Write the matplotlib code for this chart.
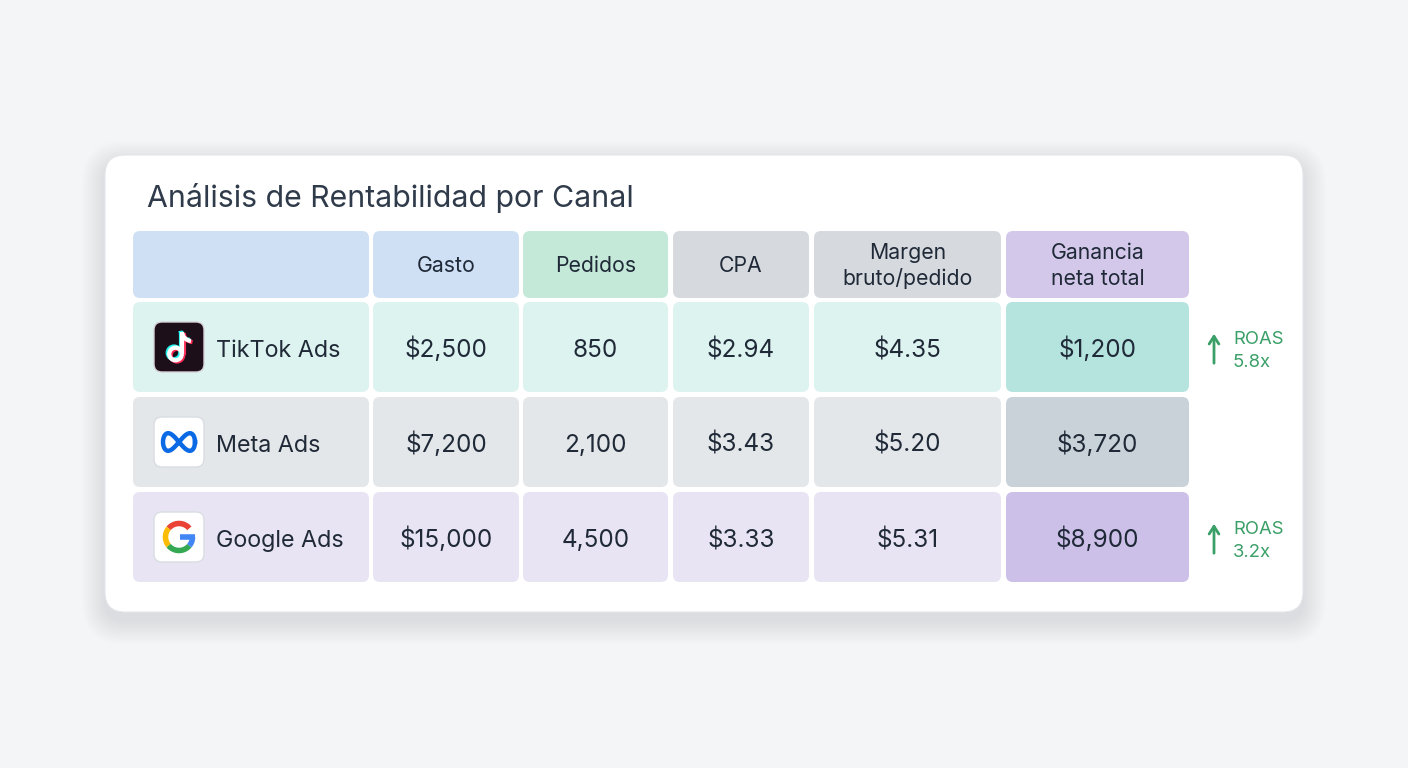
import numpy as np
import matplotlib.pyplot as plt
from matplotlib.patches import FancyBboxPatch, Circle
from matplotlib.path import Path
from matplotlib.patches import PathPatch

plt.rcParams['font.family'] = ['Inter', 'DejaVu Sans']

# ---- data ----
title = "Análisis de Rentabilidad por Canal"
headers = ["", "Gasto", "Pedidos", "CPA", "Margen\nbruto/pedido", "Ganancia\nneta total"]
channels = ["TikTok Ads", "Meta Ads", "Google Ads"]
gasto = [2500, 7200, 15000]
pedidos = [850, 2100, 4500]
cpa = [2.94, 3.43, 3.33]
margen = [4.35, 5.20, 5.31]
ganancia = [1200, 3720, 8900]
roas = [5.8, None, 3.2]

# ---- layout (pixels) ----
W, H = 1408, 768
col_x = [133, 373, 523, 673, 814, 1006]
col_w = [236, 146, 145, 136, 187, 183]
head_y, head_h = 231, 67
row_y = [302, 397, 492]
row_h = 90

text_col = '#1f2937'
green = '#3b9f68'

header_colors = ['#cfe0f5', '#cfe0f5', '#c4e9d8', '#d6dadf', '#d6dadf', '#d3c8ea']
row_colors = ['#ddf3ef', '#e3e7e9', '#e8e4f4']
last_colors = ['#b5e4df', '#c9d2d8', '#ccc0e8']

fig = plt.figure(figsize=(W / 100, H / 100), dpi=100)
fig.patch.set_facecolor('#f3f5f6')
ax = fig.add_axes([0, 0, 1, 1])
ax.set_xlim(0, W)
ax.set_ylim(H, 0)
ax.axis('off')


def box(x, y, w, h, fc, r=6, ec='none', lw=0, z=2, alpha=1):
    p = FancyBboxPatch((x, y), w, h, boxstyle=f"round,pad=0,rounding_size={r}",
                       fc=fc, ec=ec, lw=lw, zorder=z, alpha=alpha)
    ax.add_patch(p)
    return p


# card shadow + card
for i in range(12):
    g = 1 + i * 2.0
    box(105 - g, 155 - g + 9, 1198 + 2 * g, 457 + 2 * g, '#7d8690', r=20 + g,
        z=0, alpha=0.010)
box(105, 155, 1198, 457, 'white', r=20, ec='#e3e6ea', lw=0.8, z=1)

ax.text(147, 207, title, fontsize=21.8, color='#2f3b4a', va='baseline', ha='left', zorder=3)

# header
for j, hd in enumerate(headers):
    box(col_x[j], head_y, col_w[j], head_h, header_colors[j], r=7)
    lines = hd.split('\n') if hd else []
    base = [272] if len(lines) == 1 else [259, 285]
    for ln, b in zip(lines, base):
        ax.text(col_x[j] + col_w[j] / 2, b, ln, fontsize=15.3,
                color=text_col, ha='center', va='baseline', zorder=3)

# body
for i, ch in enumerate(channels):
    vals = [f"${gasto[i]:,}", f"{pedidos[i]:,}", f"${cpa[i]:.2f}",
            f"${margen[i]:.2f}", f"${ganancia[i]:,}"]
    cy = row_y[i] + row_h / 2
    for j in range(6):
        fc = last_colors[i] if j == 5 else row_colors[i]
        box(col_x[j], row_y[i], col_w[j], row_h, fc, r=7)
        if j > 0:
            ax.text(col_x[j] + col_w[j] / 2, cy + 10, vals[j - 1], fontsize=17.5,
                    color=text_col, ha='center', va='baseline', zorder=3)
    ax.text(216, cy + 10, ch, fontsize=16.8, color=text_col, ha='left', va='baseline', zorder=3)

    # icon
    ix, iy = 179, cy
    if i == 0:
        box(ix - 25, iy - 25, 50, 50, '#1c0f1a', r=8, ec='#d8d0d6', lw=1, z=3)

        def note(dx, dy, c):
            ax.plot([ix + 3 + dx, ix + 3 + dx], [iy - 15 + dy, iy + 7 + dy], color=c,
                    lw=3, solid_capstyle='butt', zorder=4)
            ax.add_patch(Circle((ix - 3.5 + dx, iy + 7 + dy), 6.3, fill=False, ec=c, lw=3, zorder=4))
            pth = Path([(ix + 3 + dx, iy - 15 + dy), (ix + 4 + dx, iy - 7 + dy),
                        (ix + 12 + dx, iy - 6 + dy)], [Path.MOVETO, Path.CURVE3, Path.CURVE3])
            ax.add_patch(PathPatch(pth, fill=False, ec=c, lw=3, zorder=4))
        note(-1.5, -1.2, '#25f4ee')
        note(1.5, 1.2, '#fe2c55')
        note(0, 0, 'white')
    elif i == 1:
        box(ix - 25, iy - 25, 50, 50, 'white', r=8, ec='#d9dde2', lw=1, z=3)
        t = np.linspace(0, 2 * np.pi, 200)
        ax.plot(ix + 16 * np.cos(t), iy + 9.5 * np.sin(2 * t) * (1 - 0.15 * np.cos(t) ** 2),
                color='#0a6ae6', lw=3.2, zorder=4)
    else:
        box(ix - 25, iy - 25, 50, 50, 'white', r=8, ec='#d9dde2', lw=1, z=3)
        r = 13.5
        for a0, a1, c in [(40, 140, '#ea4335'), (140, 220, '#fbbc05'),
                          (220, 320, '#34a853'), (320, 360, '#4285f4')]:
            a = np.radians(np.linspace(a0, a1, 40))
            ax.plot(ix + r * np.cos(a), iy - r * np.sin(a), color=c, lw=4,
                    solid_capstyle='butt', zorder=4)
        ax.plot([ix + 1, ix + r + 2], [iy, iy], color='#4285f4', lw=4,
                solid_capstyle='butt', zorder=4)

    # ROAS note
    if roas[i] is not None:
        ax.annotate('', xy=(1214, cy - 16), xytext=(1214, cy + 19),
                    arrowprops=dict(arrowstyle='->,head_length=0.55,head_width=0.35',
                                    color=green, lw=2), zorder=4)
        ax.text(1233, cy - 3, "ROAS", fontsize=13.3, color=green, ha='left', va='baseline')
        ax.text(1233, cy + 20, f"{roas[i]}x", fontsize=13.3, color=green, ha='left', va='baseline')

fig.savefig("out.png", dpi=100, facecolor=fig.get_facecolor())
